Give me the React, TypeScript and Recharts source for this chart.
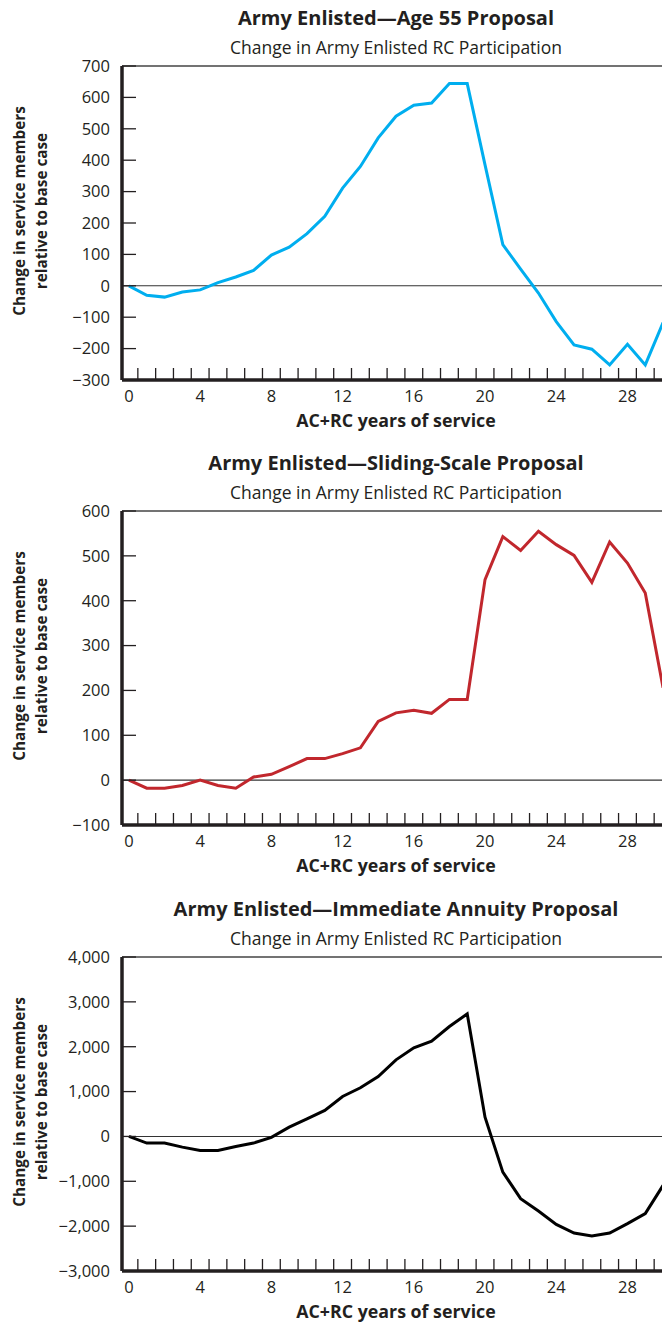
import { LineChart, Line, XAxis, YAxis, ReferenceLine } from "recharts";

// years of service (AC+RC)
const YEARS = [
  0, 1, 2, 3, 4, 5, 6, 7, 8, 9, 10, 11, 12, 13, 14, 15, 16, 17, 18, 19, 20,
  21, 22, 23, 24, 25, 26, 27, 28, 29, 30,
];

// change in service members relative to base case
const AGE_55 = [
  0, -30, -36, -20, -13, 10, 28, 49, 98, 123, 166, 221, 311, 380, 471, 540,
  575, 582, 644, 644, 385, 131, 53, -23, -114, -188, -202, -252, -186, -252,
  -117,
];
const SLIDING_SCALE = [
  0, -18, -18, -12, 0, -12, -18, 7, 13, 30, 48, 48, 59, 72, 131, 150, 156, 149,
  180, 180, 447, 543, 512, 555, 525, 501, 441, 531, 484, 417, 206,
];
const IMMEDIATE_ANNUITY = [
  0, -148, -148, -238, -312, -312, -223, -148, -20, 208, 393, 579, 891, 1084,
  1336, 1707, 1975, 2123, 2450, 2732, 430, -795, -1388, -1663, -1960, -2153,
  -2220, -2153, -1944, -1722, -1091,
];

const X_LABELS = [0, 4, 8, 12, 16, 20, 24, 28];
const X_MINOR = [
  0.5, 1.5, 2.5, 3.5, 4.5, 5.5, 6.5, 7.5, 8.5, 9.5, 10.5, 11.5, 12.5, 13.5,
  14.5, 15.5, 16.5, 17.5, 18.5, 19.5, 20.5, 21.5, 22.5, 23.5, 24.5, 25.5, 26.5,
  27.5, 28.5, 29.5,
];
const Y_TICKS_AGE_55 = [-300, -200, -100, 0, 100, 200, 300, 400, 500, 600, 700];
const Y_TICKS_SLIDING = [-100, 0, 100, 200, 300, 400, 500, 600];
const Y_TICKS_ANNUITY = [-3000, -2000, -1000, 0, 1000, 2000, 3000, 4000];

const FONT = '"Open Sans", sans-serif';
const INK = "#231f20";
const PLOT_H = 314;
const PAD = 20;

const fmt = (v: number) => {
  const s = Math.abs(v).toLocaleString("en-US");
  return v < 0 ? "\u2212" + s : s;
};

function XTick(props: any) {
  const { x, y, payload } = props;
  const v = payload.value;
  if (Number.isInteger(v)) {
    return (
      <text x={x} y={y + 22} textAnchor="middle" fontSize={16.5} fontFamily={FONT} fill={INK}>
        {v}
      </text>
    );
  }
  return <line x1={x} x2={x} y1={y - 12} y2={y} stroke={INK} strokeWidth={1.3} />;
}

function Label({ x, y, size, bold, rotate, children }: any) {
  return (
    <div
      style={{
        position: "absolute",
        left: x,
        top: y,
        transform: `translate(-50%, -50%)${rotate ? " rotate(-90deg)" : ""}`,
        whiteSpace: "nowrap",
        fontFamily: FONT,
        fontSize: size,
        fontWeight: bold ? 700 : 400,
        lineHeight: `${size * 1.2}px`,
        color: INK,
      }}
    >
      {children}
    </div>
  );
}

function Panel({ plotTop, title, values, color, ticks }: any) {
  const rows = YEARS.map((yr, i) => ({ yr, v: values[i] }));
  const domain = [ticks[0], ticks[ticks.length - 1]];
  const plotBottom = plotTop + PLOT_H;
  const midY = plotTop + PLOT_H / 2 - 12;
  return (
    <>
      <Label x={396} y={plotTop - 48} size={20} bold>
        {title}
      </Label>
      <Label x={396} y={plotTop - 19.5} size={17.5}>
        Change in Army Enlisted RC Participation
      </Label>
      <Label x={19} y={midY} size={15.3} bold rotate>
        Change in service members
      </Label>
      <Label x={41} y={midY} size={15.3} bold rotate>
        relative to base case
      </Label>
      <Label x={396} y={plotBottom + 41} size={17.8} bold>
        AC+RC years of service
      </Label>
      <div style={{ position: "absolute", left: 0, top: plotTop - PAD }}>
        <LineChart
          width={662}
          height={PLOT_H + PAD + 40}
          data={rows}
          margin={{ top: PAD, right: 0, bottom: 10, left: 0 }}
        >
          <ReferenceLine y={domain[1]} stroke="#444" strokeWidth={1.6} />
          <ReferenceLine y={0} stroke="#333" strokeWidth={1.1} />
          <Line
            type="linear"
            dataKey="v"
            stroke={color}
            strokeWidth={3}
            dot={false}
            activeDot={false}
            isAnimationActive={false}
          />
          <XAxis
            dataKey="yr"
            type="number"
            domain={[-0.39, 29.94]}
            allowDataOverflow
            ticks={[...X_LABELS, ...X_MINOR].sort((a, b) => a - b)}
            interval={0}
            tickLine={false}
            tickSize={0}
            tickMargin={0}
            height={30}
            axisLine={{ stroke: INK, strokeWidth: 3.5 }}
            tick={<XTick />}
          />
          <YAxis
            type="number"
            domain={domain}
            allowDataOverflow
            ticks={ticks}
            interval={0}
            width={122}
            tickSize={-14}
            tickMargin={26}
            tickFormatter={fmt}
            axisLine={{ stroke: INK, strokeWidth: 3.5 }}
            tickLine={{ stroke: INK, strokeWidth: 1.3 }}
            tick={{ fontSize: 16.5, fill: INK, fontFamily: FONT }}
          />
        </LineChart>
      </div>
    </>
  );
}

export default function App() {
  return (
    <div
      style={{
        position: "absolute",
        left: 0,
        top: 0,
        width: 662,
        height: 1323,
        overflow: "hidden",
        background: "#fff",
      }}
    >
      <Panel
        plotTop={66}
        title="Army Enlisted—Age 55 Proposal"
        values={AGE_55}
        color="#00aeef"
        ticks={Y_TICKS_AGE_55}
      />
      <Panel
        plotTop={511}
        title="Army Enlisted—Sliding-Scale Proposal"
        values={SLIDING_SCALE}
        color="#c1272d"
        ticks={Y_TICKS_SLIDING}
      />
      <Panel
        plotTop={957}
        title="Army Enlisted—Immediate Annuity Proposal"
        values={IMMEDIATE_ANNUITY}
        color="#000000"
        ticks={Y_TICKS_ANNUITY}
      />
    </div>
  );
}
